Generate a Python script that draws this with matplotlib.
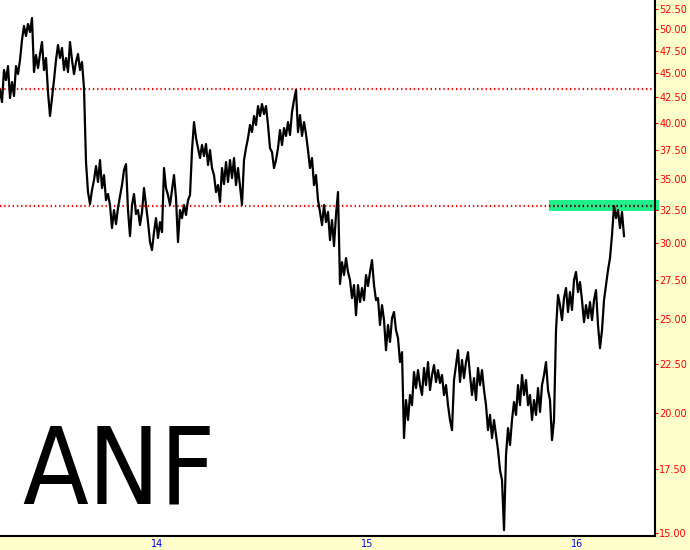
import numpy as np
import matplotlib
matplotlib.use("Agg")
import matplotlib.pyplot as plt
from matplotlib.ticker import FixedLocator, NullLocator

# ANF price path, one reading every 1/105 of a year starting April 2013
start_year = 2013.25
price = [
    43.25, 42.03, 45.37, 44.30, 45.81, 42.43, 44.09, 42.64, 45.81, 44.94,
    46.47, 48.75, 50.41, 49.22, 50.65, 49.69, 51.38, 45.16, 47.03, 45.59,
    47.14, 48.52, 45.37, 46.70, 43.05, 40.65, 42.43, 44.30, 46.47, 48.17,
    46.70, 47.83, 45.37, 46.70, 45.16, 48.52, 46.47, 44.94, 46.25, 47.14,
    45.37, 46.25, 43.46, 36.42, 33.90, 32.94, 34.06, 34.88, 36.07, 34.72,
    36.59, 34.22, 35.30, 33.25, 33.74, 32.86, 31.10, 32.47, 31.40, 32.63,
    33.57, 34.47, 35.72, 36.24, 32.47, 30.51, 32.86, 33.74, 32.16, 32.47,
    31.33, 32.32, 34.22, 32.86, 31.55, 30.08, 29.51, 30.80, 31.85, 30.37,
    31.55, 30.80, 35.90, 34.22, 33.65, 32.86, 34.06, 35.30, 33.41, 30.08,
    32.47, 31.85, 32.86, 32.09, 33.25, 33.65, 37.47, 40.07, 38.57, 37.65,
    36.77, 37.93, 36.94, 38.02, 36.16, 37.47, 35.90, 35.30, 33.90, 34.47,
    33.10, 35.90, 34.55, 36.42, 34.72, 36.59, 35.05, 36.77, 34.47, 35.90,
    34.39, 32.86, 36.59, 37.65, 38.57, 39.79, 39.12, 40.65, 39.79, 41.63,
    40.65, 41.83, 40.84, 41.63, 39.79, 37.65, 37.29, 35.90, 36.59, 37.65,
    39.31, 37.93, 39.50, 38.76, 40.07, 38.85, 41.04, 42.23, 43.25, 39.12,
    40.75, 38.76, 40.07, 38.94, 37.47, 35.90, 36.77, 34.47, 35.30, 33.25,
    32.32, 31.33, 32.86, 31.55, 32.32, 30.22, 31.70, 29.79, 32.09, 33.90,
    27.21, 28.67, 27.80, 28.95, 28.00, 27.47, 26.31, 27.14, 25.26, 27.14,
    26.06, 26.95, 26.18, 27.80, 27.08, 28.00, 28.81, 27.14, 26.18, 26.31,
    24.67, 25.87, 24.96, 23.23, 24.67, 23.69, 25.08, 25.45, 24.37, 23.91,
    22.58, 23.12, 18.83, 20.62, 19.66, 20.87, 20.37, 22.05, 21.22, 22.15,
    21.37, 20.87, 22.26, 21.37, 22.58, 21.12, 21.89, 22.42, 21.53, 22.15,
    21.48, 21.89, 20.87, 21.37, 20.37, 19.66, 19.19, 21.63, 22.42, 23.23,
    21.53, 22.69, 21.73, 22.58, 23.12, 21.89, 20.87, 21.73, 20.62, 22.26,
    21.37, 22.15, 21.12, 20.37, 19.19, 19.90, 18.83, 19.66, 18.96, 18.30,
    17.44, 17.03, 15.11, 18.08, 19.28, 18.52, 19.66, 20.52, 19.90, 21.37,
    20.37, 21.89, 20.87, 21.63, 20.37, 20.87, 19.66, 20.62, 19.90, 21.22,
    20.04, 21.37, 21.89, 22.58, 21.12, 20.62, 18.74, 19.66, 24.37, 26.50,
    25.87, 24.96, 26.31, 26.95, 25.45, 26.69, 25.57, 27.47, 28.00, 26.69,
    27.34, 26.18, 24.84, 25.87, 25.08, 26.06, 24.96, 26.18, 26.82, 24.67,
    23.34, 24.37, 26.18, 27.14, 28.13, 28.95, 30.59, 32.78, 31.85, 32.47,
    31.10, 32.32, 30.51,
]
dates = start_year + np.arange(len(price)) / 105.0

levels = [43.35, 32.8]
zone_low, zone_high = 32.4, 33.25
zone_start, zone_end = 2015.864, 2016.39

year_ticks = [2014, 2015, 2016]
year_labels = ["14", "15", "16"]
price_ticks = np.arange(15.0, 52.51, 2.5)

fig = plt.figure(figsize=(6.9, 5.5), dpi=100, facecolor="#ffffcc")
ax = fig.add_axes([0, 14 / 550, 655 / 690, 536 / 550])
ax.set_facecolor("white")

ax.plot(dates, price, color="black", lw=1.6, zorder=3)

for lv in levels:
    ax.axhline(lv, color="#ff0000", lw=1.6, ls=(0, (0.6, 1.3)), zorder=2)

ax.fill_between([zone_start, zone_end], zone_low, zone_high, color="#20f08c",
                lw=0, zorder=1, clip_on=False)
ax.plot([zone_start, 2016.369], [levels[1], levels[1]], color="#202020", lw=1.6,
        ls=(0, (0.6, 1.3)), zorder=2)

ax.set_yscale("log")
ax.set_xlim(start_year, 2016.369)
ax.set_ylim(14.90, 53.64)

ax.yaxis.set_major_locator(FixedLocator(price_ticks))
ax.yaxis.set_minor_locator(NullLocator())
ax.set_yticklabels(["%.2f" % p for p in price_ticks])
ax.yaxis.tick_right()
ax.tick_params(axis="y", colors="#ff0000", labelsize=7, length=2, width=0.8, pad=1)

ax.set_xticks(year_ticks)
ax.set_xticklabels(year_labels)
ax.tick_params(axis="x", colors="#0000ff", labelsize=7, length=0, pad=2.5)

for side in ["top", "left"]:
    ax.spines[side].set_visible(False)
for side in ["right", "bottom"]:
    ax.spines[side].set_linewidth(1.5)
    ax.spines[side].set_color("black")

fig.text(22 / 690, 46 / 550, "ANF", fontsize=77, family="DejaVu Sans",
         fontstretch="condensed", color="black", ha="left", va="baseline")

fig.savefig("out.png", dpi=100, facecolor=fig.get_facecolor())
